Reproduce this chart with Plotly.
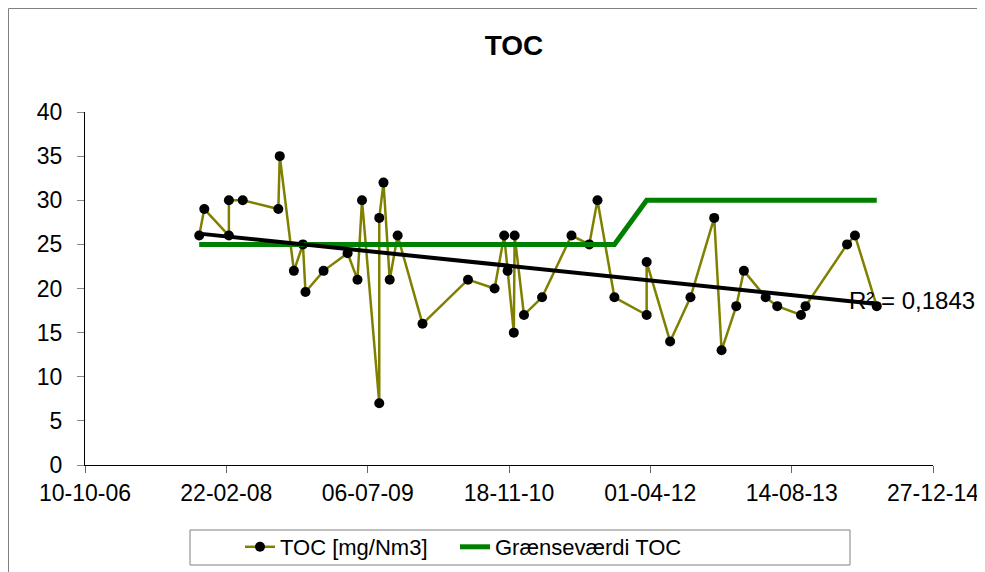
import numpy as np
import pandas as pd
import plotly.graph_objs as go

dates = ["2007-11-18", "2007-12-06", "2008-03-02", "2008-03-02", "2008-04-20",
         "2008-08-24", "2008-08-29", "2008-10-18", "2008-11-19", "2008-11-28",
         "2009-01-31", "2009-04-26", "2009-05-31", "2009-06-16", "2009-08-16",
         "2009-08-16", "2009-08-31", "2009-09-22", "2009-10-20", "2010-01-16",
         "2010-06-26", "2010-09-28", "2010-11-01", "2010-11-13", "2010-12-05",
         "2010-12-08", "2011-01-10", "2011-03-15", "2011-06-27", "2011-08-29",
         "2011-09-27", "2011-11-26", "2012-03-19", "2012-03-19", "2012-06-10",
         "2012-08-21", "2012-11-13", "2012-12-09", "2013-01-30", "2013-02-26",
         "2013-05-14", "2013-06-24", "2013-09-16", "2013-10-02", "2014-02-26",
         "2014-03-26", "2014-06-11"]

toc = [26, 29, 26, 30, 30, 29, 35, 22, 25, 19.6,
       22, 24, 21, 30, 7, 28, 32, 21, 26, 16,
       21, 20, 26, 22, 15, 26, 17, 19, 26, 25,
       30, 19, 17, 23, 14, 19, 28, 13, 18, 22,
       19, 18, 17, 18, 25, 26, 18]

limit = [25] * 32 + [30] * 15

r2_text = "R² = 0,1843"

FONT = "Liberation Sans, Arial, sans-serif"

# page body has an 8px margin, so work in figure pixels = screen - 8
OFF = 8
FW, FH = 985 - OFF, 572 - OFF
L, R, T, B = 85 - OFF, 933 - OFF, 112 - OFF, 465 - OFF
W, H = R - L, B - T

def px(x):
    # screen x -> paper x
    return (x - OFF - L) / W

def py(y):
    # screen y -> paper y
    return (B - (y - OFF)) / H

# linear trend (same as excel trendline)
d = pd.to_datetime(dates)
days = (d - pd.Timestamp("1900-01-01")).days.values.astype(float)
slope, icpt = np.polyfit(days, toc, 1)
trend_x = [d.min(), d.max()]
trend_y = [icpt + slope * days.min(), icpt + slope * days.max()]

fig = go.Figure()

fig.add_trace(go.Scatter(
    x = dates,
    y = toc,
    name = "TOC [mg/Nm3]",
    mode = "lines+markers",
    line = dict(color = "#808000", width = 2.5),
    marker = dict(color = "black", size = 10),
    legend = "legend",
))

fig.add_trace(go.Scatter(
    x = dates,
    y = limit,
    name = "Grænseværdi TOC",
    mode = "lines",
    line = dict(color = "#008000", width = 5),
    legend = "legend2",
))

fig.add_trace(go.Scatter(
    x = trend_x,
    y = trend_y,
    mode = "lines",
    showlegend = False,
    line = dict(color = "black", width = 4),
))

fig.update_xaxes(
    type = "date",
    range = ["2006-10-10", "2014-12-27"],
    tick0 = "2006-10-10",
    dtick = 500 * 86400000,
    tickformat = "%d-%m-%y",
    showgrid = False,
    zeroline = False,
    showline = True,
    linecolor = "black",
    linewidth = 1,
    ticks = "outside",
    ticklen = 7,
    tickcolor = "#666666",
    automargin = False,
    tickfont = dict(size = 23, color = "black", family = FONT),
)

fig.update_yaxes(
    range = [0, 40],
    dtick = 5,
    showgrid = False,
    zeroline = False,
    showline = True,
    linecolor = "black",
    linewidth = 1,
    ticks = "outside",
    ticklen = 7,
    tickcolor = "#888888",
    ticklabelstandoff = 10,
    automargin = False,
    tickfont = dict(size = 23, color = "black", family = FONT),
)

fig.add_annotation(
    text = r2_text,
    xref = "paper", yref = "paper",
    x = px(847), y = py(300),
    xanchor = "left", yanchor = "middle",
    showarrow = False,
    font = dict(size = 24, color = "black", family = FONT),
)

# chart area border (left / top visible)
fig.add_shape(type = "line", xref = "paper", yref = "paper",
              x0 = px(8.5), x1 = px(8.5), y0 = py(572), y1 = py(8.5),
              line = dict(color = "#808080", width = 1))
fig.add_shape(type = "line", xref = "paper", yref = "paper",
              x0 = px(8.5), x1 = px(984), y0 = py(8.5), y1 = py(8.5),
              line = dict(color = "#808080", width = 1))

# legend box
fig.add_shape(type = "rect", xref = "paper", yref = "paper",
              x0 = px(190), x1 = px(850), y0 = py(530), y1 = py(565),
              line = dict(color = "#808080", width = 1),
              fillcolor = "rgba(0,0,0,0)")

leg = dict(
    orientation = "h",
    xanchor = "left",
    y = py(547), yanchor = "middle",
    bgcolor = "rgba(0,0,0,0)",
    borderwidth = 0,
    font = dict(size = 22, family = FONT, color = "black"),
)

fig.update_layout(
    title = dict(text = "<b>TOC</b>", x = (514 - OFF) / FW, xanchor = "center",
                 y = 1 - (47 - OFF - 2) / FH, yanchor = "middle",
                 font = dict(size = 28, color = "black", family = FONT)),
    width = FW,
    height = FH,
    margin = dict(l = L, r = FW - R, t = T, b = FH - B, autoexpand = False),
    plot_bgcolor = "white",
    paper_bgcolor = "white",
    font = dict(family = FONT, color = "black"),
    legend = dict(leg, x = px(240)),
    legend2 = dict(leg, x = px(455)),
)

fig.write_html("out.html")
